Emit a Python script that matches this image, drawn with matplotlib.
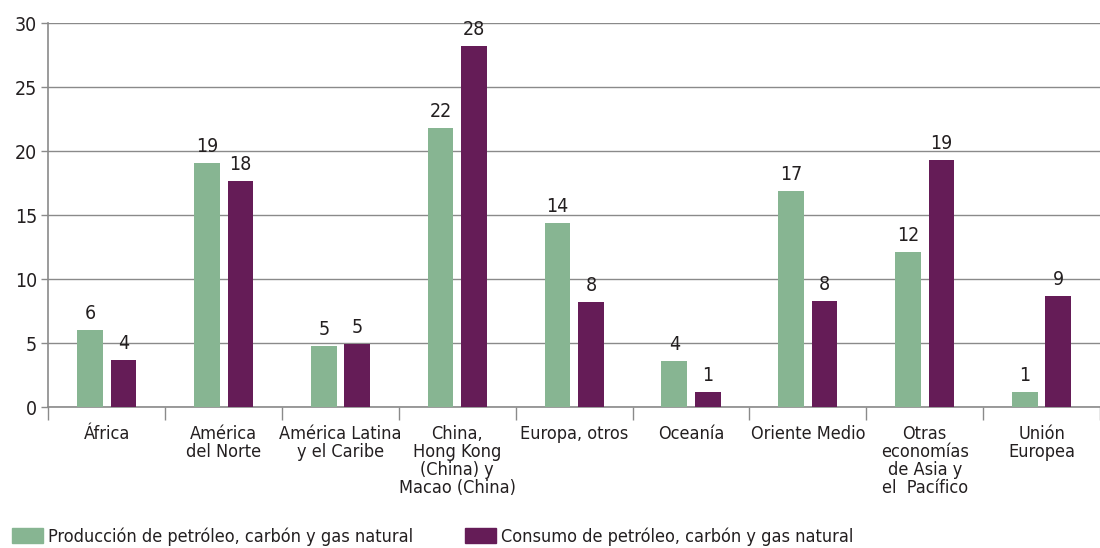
import matplotlib
matplotlib.use("Agg")
import matplotlib.pyplot as plt
import matplotlib.patches as mpatches
import numpy as np

plt.rcParams['font.family'] = ['DejaVu Sans']
plt.rcParams['font.stretch'] = 'condensed'

regiones = ["África", "América\ndel Norte", "América Latina\ny el Caribe",
            "China,\nHong Kong\n(China) y\nMacao (China)", "Europa, otros",
            "Oceanía", "Oriente Medio", "Otras\neconomías\nde Asia y\nel  Pacífico",
            "Unión\nEuropea"]
produccion = [6.0, 19.1, 4.8, 21.8, 14.4, 3.6, 16.9, 12.1, 1.2]
consumo = [3.7, 17.7, 4.9, 28.2, 8.2, 1.2, 8.3, 19.3, 8.7]
serie_prod = "Producción de petróleo, carbón y gas natural"
serie_cons = "Consumo de petróleo, carbón y gas natural"

verde = "#87b592"
morado = "#651c57"
gris = "#8a8a8a"
texto = "#231f20"

fig = plt.figure(figsize=(11, 5.48), dpi=100)
ax = fig.add_axes([0.044, 0.257, 0.956, 0.701])

x = np.arange(len(regiones))
w = 0.22
b1 = ax.bar(x - 0.143, produccion, w, color=verde, zorder=3)
b2 = ax.bar(x + 0.143, consumo, w, color=morado, zorder=3)
for barras in (b1, b2):
    ax.bar_label(barras, labels=[f"{v:.0f}" for v in barras.datavalues],
                 padding=5, fontsize=14, color=texto)

ax.set_ylim(0, 30)
ax.set_xlim(-0.5, 8.44)
ax.set_yticks(range(0, 31, 5))
ax.yaxis.grid(True, color=gris, linewidth=1)
ax.set_axisbelow(True)

# etiquetas centradas en cada región, marcas en los límites
ax.set_xticks(x)
ax.set_xticklabels(regiones, fontsize=13, color=texto, linespacing=1.0)
ax.tick_params(axis='x', which='major', length=0, pad=13)
ax.set_xticks(np.arange(-0.5, 9, 1), minor=True)
ax.tick_params(axis='x', which='minor', length=9, color=gris, width=1)
ax.tick_params(axis='y', length=5, color=gris, width=1, labelsize=14,
               labelcolor=texto, pad=3)

for lado in ('top', 'right'):
    ax.spines[lado].set_visible(False)
for lado in ('left', 'bottom'):
    ax.spines[lado].set_color(gris)
    ax.spines[lado].set_linewidth(1.2)

handles = [mpatches.Patch(color=verde, label=serie_prod),
           mpatches.Patch(color=morado, label=serie_cons)]
fig.legend(handles=handles, loc='lower left', bbox_to_anchor=(0.011, 0.004),
           ncol=2, frameon=False, fontsize=13, handlelength=1.72,
           handleheight=0.83, handletextpad=0.28, columnspacing=2.85,
           borderpad=0, borderaxespad=0, labelcolor=texto)

fig.savefig("out.png", dpi=100)
